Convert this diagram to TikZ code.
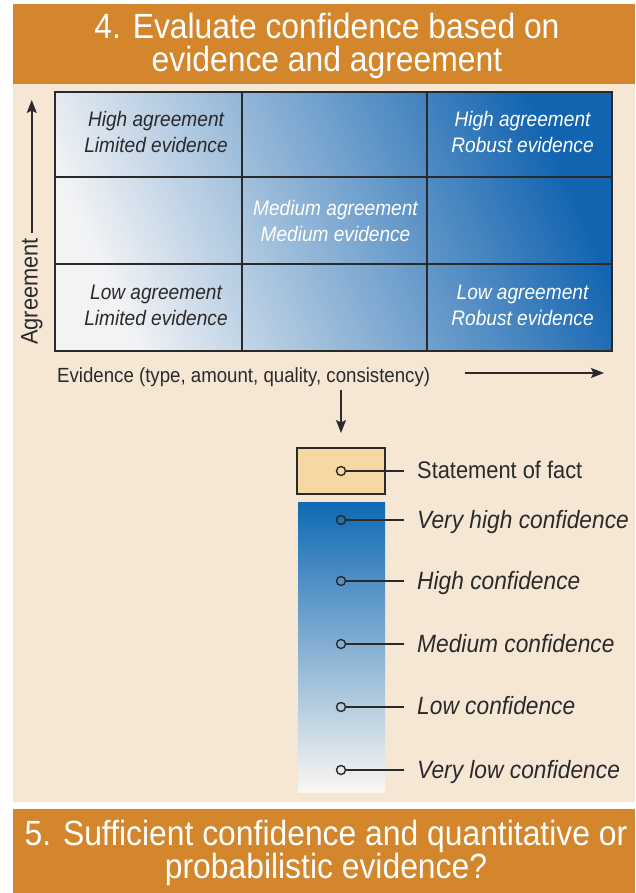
\documentclass[tikz,border=0pt]{standalone}
\usepackage{fontspec}
\newfontfamily\cf[FakeStretch=0.91]{Liberation Sans}
\usetikzlibrary{arrows.meta}
\definecolor{bandorange}{HTML}{D3862B}
\definecolor{beigebg}{HTML}{F6E7D5}
\definecolor{gridL}{HTML}{F2F3F5}
\definecolor{gridM}{HTML}{7099CF}
\definecolor{gridR}{HTML}{1264B0}
\definecolor{barTop}{HTML}{0F69B4}
\definecolor{barMid}{HTML}{6A93CC}
\definecolor{barBot}{HTML}{FBF7F2}
\definecolor{factfill}{HTML}{F6D8A4}
\definecolor{inkdark}{HTML}{2A2A2A}
\tikzset{
  titletext/.style={text=white, align=center, inner sep=0pt, font=\cf\fontsize{35}{33}\selectfont},
  celldark/.style={text=inkdark, align=center, inner sep=0pt, font=\cf\itshape\fontsize{21}{26}\selectfont},
  celllight/.style={text=white, align=center, inner sep=0pt, font=\cf\itshape\fontsize{21}{26}\selectfont},
  gridline/.style={draw=inkdark, line width=2pt},
  axislabel/.style={text=inkdark, inner sep=0pt, font=\cf\fontsize{20.5}{24}\selectfont},
  conflabel/.style={text=inkdark, inner xsep=13pt, inner ysep=0pt, anchor=base west, font=\cf\itshape\fontsize{25}{28}\selectfont},
  factlabel/.style={text=inkdark, inner xsep=13pt, inner ysep=0pt, anchor=base west, font=\cf\fontsize{24}{28}\selectfont},
  dot/.style={circle, draw=inkdark, line width=1.4pt, minimum size=9pt, inner sep=0pt},
  leader/.style={draw=inkdark, line width=1.5pt},
  bigarrow/.style={draw=inkdark, line width=1.6pt, -{Stealth[length=13pt,width=10pt,inset=2.5pt]}}
}
\begin{document}
\begin{tikzpicture}[x=1pt,y=-1pt]
\useasboundingbox (0,0) rectangle (635,893);
\fill[white] (0,0) rectangle (635,893);
% bands and background
\fill[bandorange] (13,4) rectangle (635,84);
\fill[beigebg] (13,84) rectangle (635,802);
\fill[bandorange] (13,809) rectangle (635,893);
\node[titletext] (title4) at (327,46.4) {4. Evaluate confidence based on\\evidence and agreement};
\node[titletext] (title5) at (326,852.5) {5. Sufficient confidence and quantitative or\\probabilistic evidence?};
% grid
\shade[left color=gridL, middle color=gridM, right color=gridR, shading angle=114] (55,92) rectangle (612,351);
\draw[gridline] (55,92) rectangle (612,351);
\draw[gridline] (242,92) -- (242,351);
\draw[gridline] (427,92) -- (427,351);
\draw[gridline] (55,177) -- (612,177);
\draw[gridline] (55,264) -- (612,264);
\node[celldark] (hl) at (156,132.4) {High agreement\\Limited evidence};
\node[celllight] (hr) at (522.5,132.4) {High agreement\\Robust evidence};
\node[celllight] (mm) at (335.5,221.4) {Medium agreement\\Medium evidence};
\node[celldark] (ll) at (156,305.8) {Low agreement\\Limited evidence};
\node[celllight] (lr) at (522.5,305.8) {Low agreement\\Robust evidence};
% axes
\node[axislabel, rotate=90, anchor=base west, font=\cf\fontsize{24}{26}\selectfont] (agree) at (37.5,345) {Agreement};
\coordinate (agreetip) at (31,105);
\draw[bigarrow] ([yshift=5pt]agree.east) -- ([yshift=5pt]agree.east |- agreetip);
\node[axislabel, anchor=base west] (evid) at (57,382) {Evidence (type, amount, quality, consistency)};
\coordinate (evstart) at (465,373);
\coordinate (evend) at (604,373);
\draw[bigarrow] (evstart) -- (evend);
\coordinate (downstart) at (341,390);
\coordinate (downend) at (341,433);
\draw[bigarrow] (downstart) -- (downend);
% confidence scale
\fill[factfill, draw=inkdark, line width=1.5pt] (297,448) rectangle (385,494);
\shade[top color=barTop, middle color=barMid, bottom color=barBot] (298,502) rectangle (385,792);
\foreach \n/\yy in {c0/471, c1/520, c2/581, c3/644, c4/707, c5/770}{
  \node[dot] (\n) at (341,\yy) {};
}
\node[factlabel] (t0) at (404,478.5) {Statement of fact};
\node[conflabel] (t1) at (404,528) {Very high confidence};
\node[conflabel] (t2) at (404,589) {High confidence};
\node[conflabel] (t3) at (404,652) {Medium confidence};
\node[conflabel] (t4) at (404,714.5) {Low confidence};
\node[conflabel] (t5) at (404,778) {Very low confidence};
\foreach \i in {0,...,5}{
  \draw[leader] (c\i.east) -- (c\i -| t\i.west);
}
\end{tikzpicture}
\end{document}
